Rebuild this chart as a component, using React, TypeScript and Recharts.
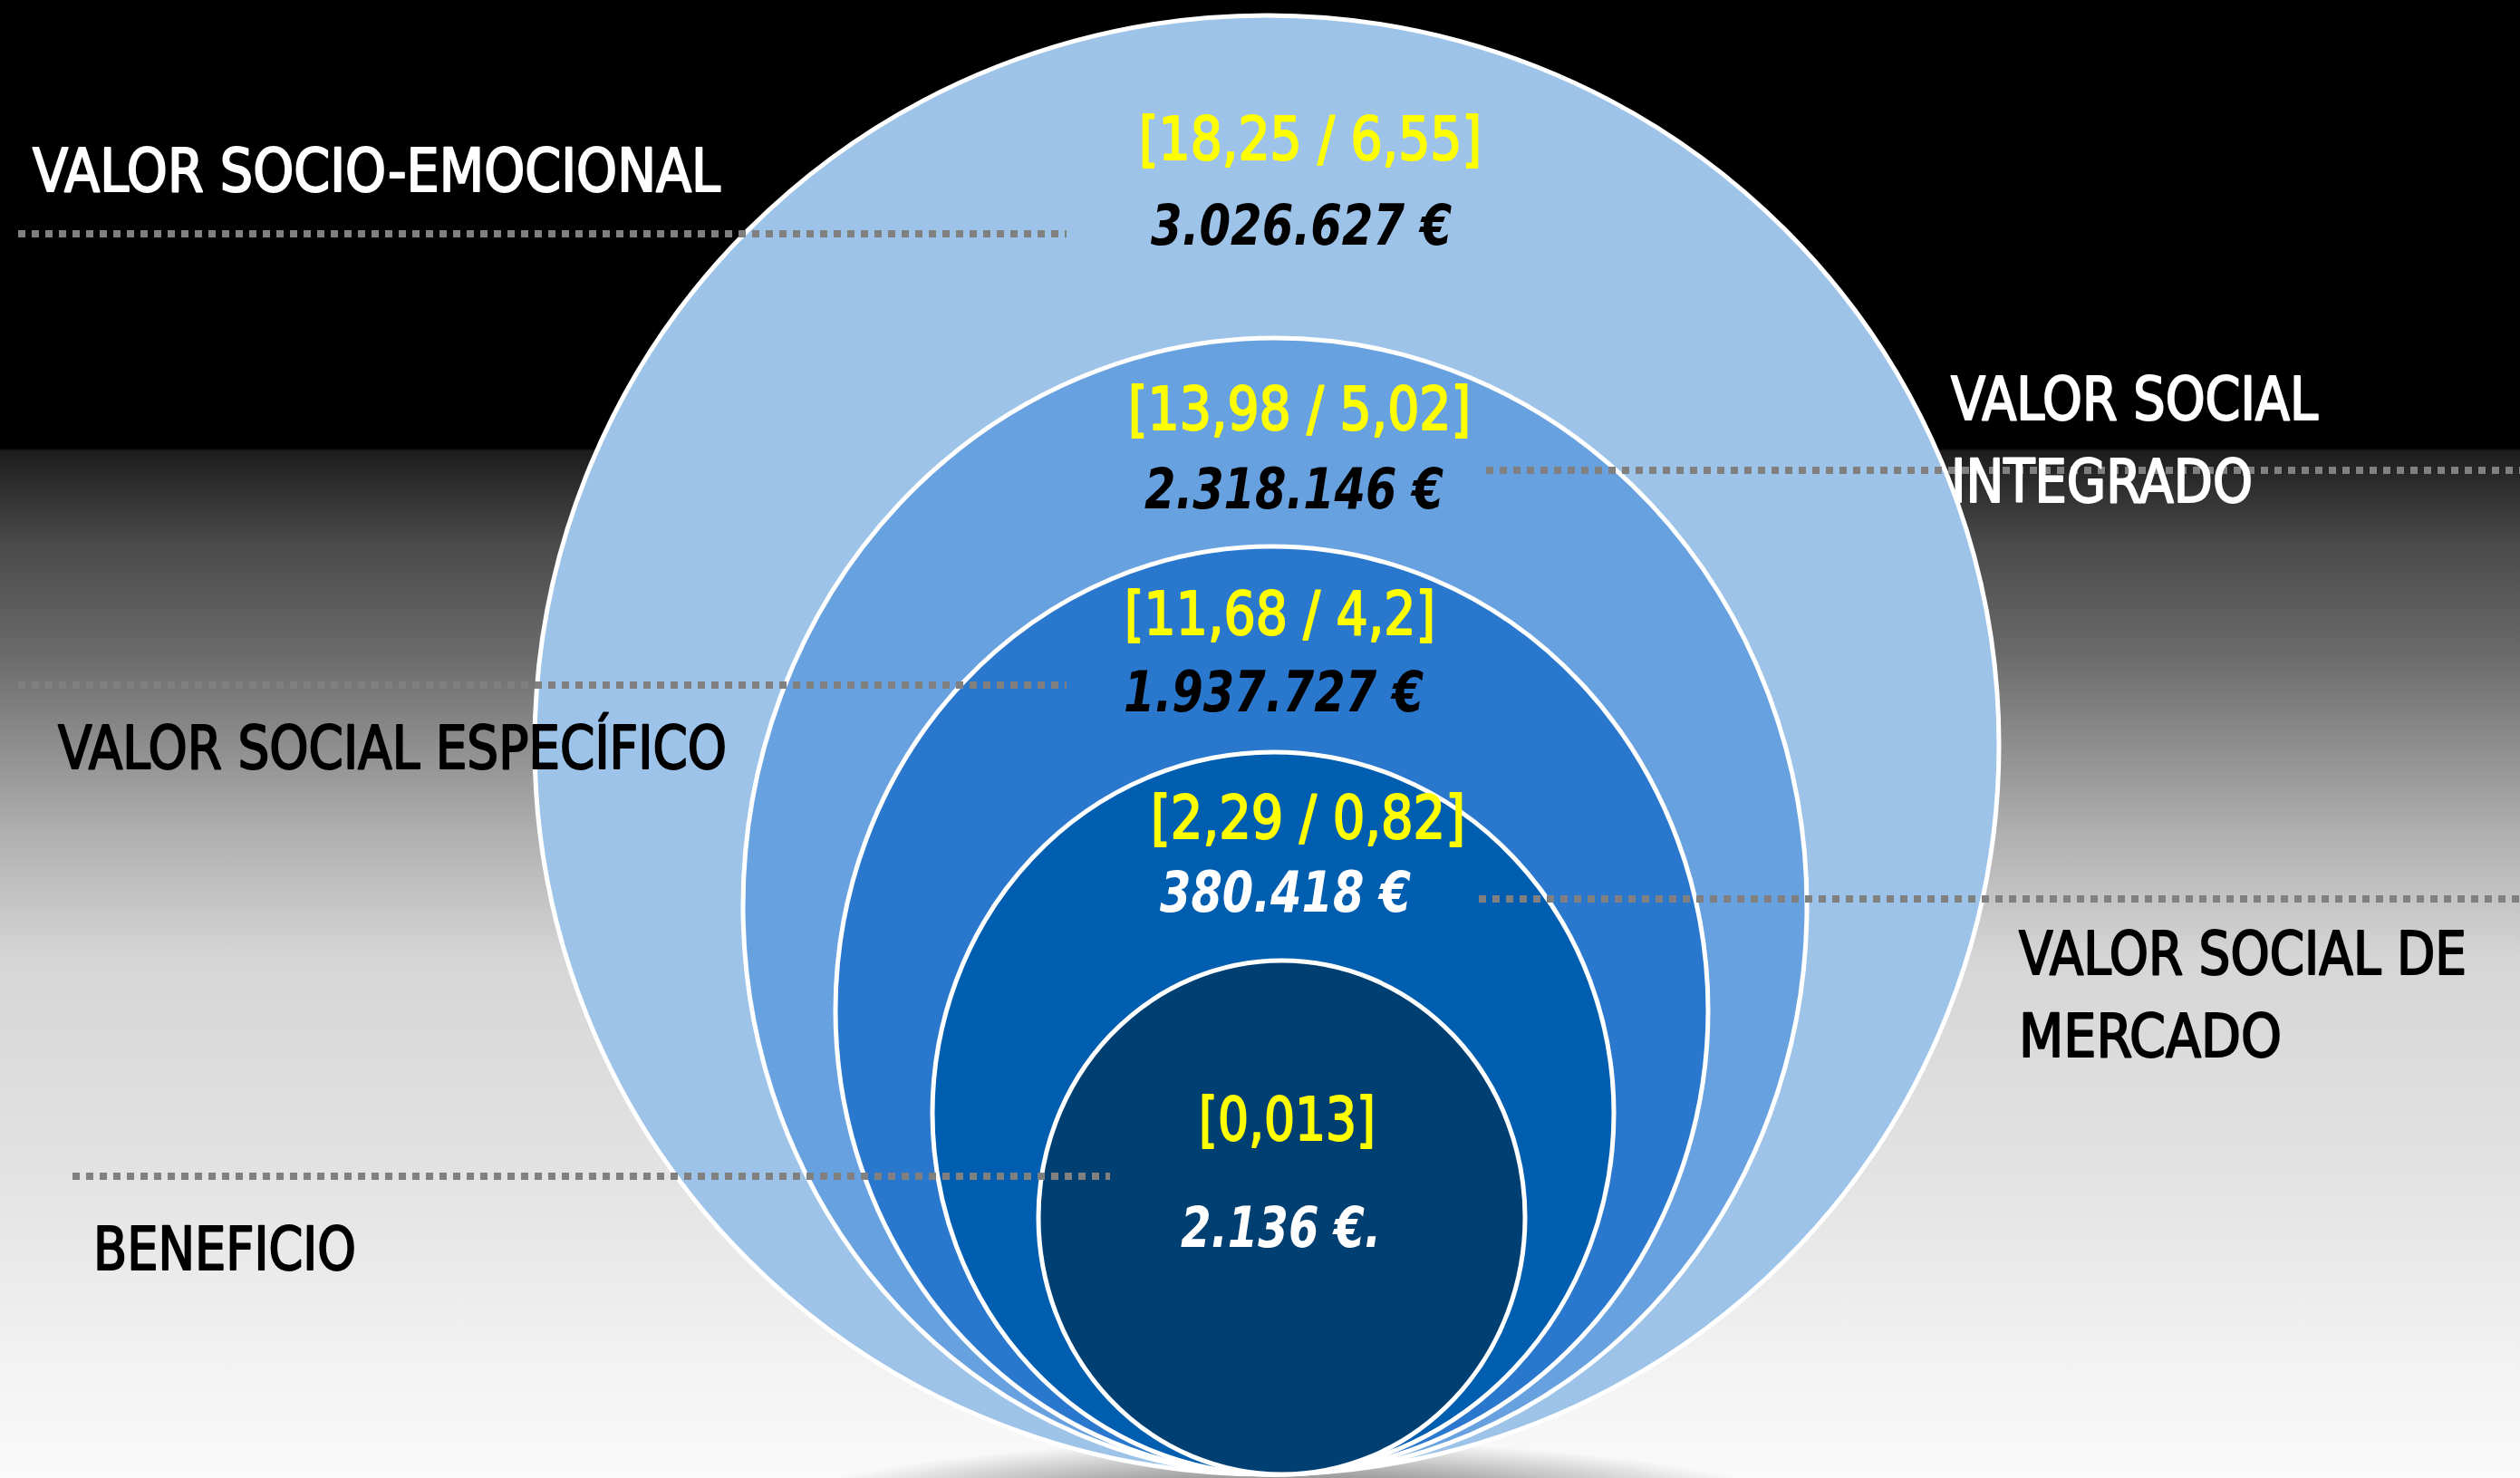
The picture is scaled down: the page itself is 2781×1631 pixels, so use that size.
import React from 'react';
import { ScatterChart, Scatter, XAxis, YAxis, ReferenceArea, ReferenceLine } from 'recharts';

// ---- data ----
const LEVEL_LINES: string[][] = [
  ['VALOR SOCIO-EMOCIONAL'],
  ['VALOR SOCIAL', 'INTEGRADO'],
  ['VALOR SOCIAL ESPECÍFICO'],
  ['VALOR SOCIAL DE', 'MERCADO'],
  ['BENEFICIO'],
];
const RATIOS: string[] = ['[18,25 / 6,55]', '[13,98 / 5,02]', '[11,68 / 4,2]', '[2,29 / 0,82]', '[0,013]'];
const AMOUNTS: string[] = ['3.026.627 €', '2.318.146 €', '1.937.727 €', '380.418 €', '2.136 €.'];

// ---- layout (diagram units) ----
const W = 2781;
const H = 1631;
const ELL_LEFT = [590, 820, 922, 1029, 1146];
const ELL_RIGHT = [2206, 1994, 1885, 1781, 1683];
const ELL_TOP = [17, 373, 603, 830, 1060];
const ELL_BOTTOM = 1627;
const ELL_FILL = ['#9DC3E9', '#68A1DF', '#2A78CE', '#005EB0', '#003F72'];

const LEAD_Y = [258, 519, 756, 992, 1298];
const LEAD_X1 = [20, 1640, 20, 1632, 80];
const LEAD_X2 = [1177, W, 1177, W, 1225];

const LABEL_X = [36, 2153, 64, 2228, 103];
const LABEL_BASE = [211, 463, 848, 1075, 1401];
const LABEL_W = [[759], [405, 333], [738], [494, 290], [290]];
const LABEL_COLOR = ['#ffffff', '#ffffff', '#000000', '#000000', '#000000'];
const LINE_GAP = 91;

const RATIO_L = [1257, 1245, 1241, 1270, 1323];
const RATIO_R = [1635, 1623, 1584, 1617, 1518];
const RATIO_BASE = [176, 474, 700, 925, 1258];
const AMT_L = [1270, 1263, 1240, 1280, 1303];
const AMT_R = [1602, 1593, 1571, 1557, 1524];
const AMT_BASE = [270, 561, 785, 1006, 1376];
const AMT_COLOR = ['#000000', '#000000', '#000000', '#ffffff', '#ffffff'];

const FONT = "'Liberation Sans Narrow', 'DejaVu Sans Condensed', 'Arial Narrow', Arial, sans-serif";

type TextPoint = { x: number; y: number; text: string; kind: 'label' | 'ratio' | 'amount'; w: number; color: string };

const textPoints: TextPoint[] = [];
LEVEL_LINES.forEach((lines, i) => {
  lines.forEach((t, j) => {
    textPoints.push({ x: LABEL_X[i], y: LABEL_BASE[i] + j * LINE_GAP, text: t, kind: 'label', w: LABEL_W[i][j], color: LABEL_COLOR[i] });
  });
});
RATIOS.forEach((t, i) => {
  textPoints.push({ x: (RATIO_L[i] + RATIO_R[i]) / 2, y: RATIO_BASE[i], text: t, kind: 'ratio', w: RATIO_R[i] - RATIO_L[i], color: '#FFFF00' });
});
AMOUNTS.forEach((t, i) => {
  textPoints.push({ x: (AMT_L[i] + AMT_R[i]) / 2, y: AMT_BASE[i], text: t, kind: 'amount', w: AMT_R[i] - AMT_L[i], color: AMT_COLOR[i] });
});

const renderText = (props: any) => {
  const { cx, cy, payload } = props;
  const p = payload as TextPoint;
  const isLabel = p.kind === 'label';
  const isAmount = p.kind === 'amount';
  return (
    <text
      x={cx}
      y={cy}
      textAnchor={isLabel ? 'start' : 'middle'}
      fill={p.color}
      stroke={isAmount ? 'none' : p.color}
      strokeWidth={isAmount ? 0 : 2}
      strokeLinejoin="round"
      fontFamily={FONT}
      fontSize={isAmount ? 62 : 66}
      fontWeight={isAmount ? 'bold' : 'normal'}
      fontStyle={isAmount ? 'italic' : 'normal'}
      textLength={p.w}
      lengthAdjust="spacingAndGlyphs"
    >
      {p.text}
    </text>
  );
};

const ellipseShape = (fill: string) => (props: any) => {
  const { x, y, width, height } = props;
  const w = Math.abs(width);
  const h = Math.abs(height);
  const left = width < 0 ? x + width : x;
  const top = height < 0 ? y + height : y;
  return (
    <ellipse
      cx={left + w / 2}
      cy={top + h / 2}
      rx={w / 2}
      ry={h / 2}
      fill={fill}
      stroke="#ffffff"
      strokeWidth={5}
    />
  );
};

const background = [
  'radial-gradient(ellipse 560px 75px at 1420px 1665px, rgba(60,60,60,0.95) 0%, rgba(100,100,100,0.65) 45%, rgba(200,200,200,0) 100%)',
  'linear-gradient(to bottom, #000 0px, #000 495px, #1c1c1c 497px, #4a4a4a 600px, #6a6a6a 720px, #b0b0b0 920px, #d6d6d6 1060px, #e3e3e3 1300px, #f2f2f2 1500px, #fafafa 1631px)',
].join(',');

export default function App() {
  return (
    <div style={{ position: 'absolute', left: 0, top: 0, width: W, height: H, background, overflow: 'hidden' }}>
      <style>{'body{margin:0;overflow:hidden}'}</style>
      <ScatterChart width={W} height={H} margin={{ top: 0, right: 0, bottom: 0, left: 0 }}>
        <XAxis type="number" dataKey="x" domain={[0, W]} hide allowDataOverflow />
        <YAxis type="number" dataKey="y" domain={[0, H]} reversed hide allowDataOverflow />
        {ELL_LEFT.map((l, i) => (
          <ReferenceArea
            key={'e' + i}
            x1={l}
            x2={ELL_RIGHT[i]}
            y1={ELL_TOP[i]}
            y2={ELL_BOTTOM}
            ifOverflow="visible"
            shape={ellipseShape(ELL_FILL[i])}
          />
        ))}
        {LEAD_Y.map((y, i) => (
          <ReferenceLine
            key={'l' + i}
            segment={[{ x: LEAD_X1[i], y }, { x: LEAD_X2[i], y }]}
            stroke="#808080"
            strokeWidth={8}
            strokeDasharray="8 7"
            ifOverflow="visible"
          />
        ))}
        <Scatter data={textPoints} shape={renderText} isAnimationActive={false} />
      </ScatterChart>
    </div>
  );
}
